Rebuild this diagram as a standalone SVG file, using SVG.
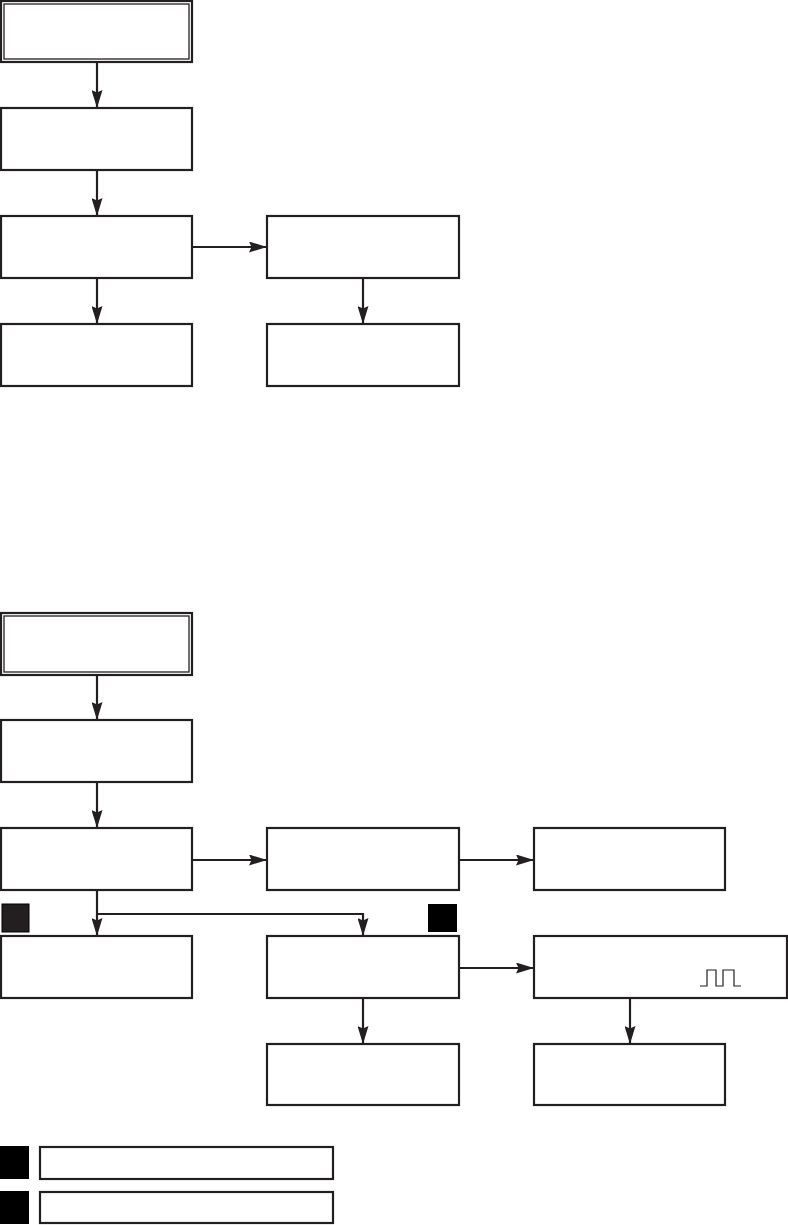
<svg xmlns="http://www.w3.org/2000/svg" width="788" height="1225" viewBox="0 0 788 1225">
<style>
.box{fill:#fff;stroke:#231f20;stroke-width:2.2}
.inner{fill:none;stroke:#231f20;stroke-width:1.3}
.conn{fill:none;stroke:#231f20;stroke-width:2.2}
.wave{fill:none;stroke:#231f20;stroke-width:1.2}
</style>
<defs>
<marker id="arr" markerUnits="userSpaceOnUse" markerWidth="18" markerHeight="11" refX="18" refY="5.5" orient="auto">
<path d="M0,0 L18,5.5 L0,11 L2.5,5.5 z" fill="#231f20"/>
</marker>
</defs>
<rect width="788" height="1225" fill="#fff"/>
<g id="connectors">
<path class="conn" d="M97,62 V108" marker-end="url(#arr)"/>
<path class="conn" d="M97,170 V216" marker-end="url(#arr)"/>
<path class="conn" d="M97,278 V324" marker-end="url(#arr)"/>
<path class="conn" d="M192,247 H267" marker-end="url(#arr)"/>
<path class="conn" d="M363,278 V324" marker-end="url(#arr)"/>
<path class="conn" d="M97,675 V720" marker-end="url(#arr)"/>
<path class="conn" d="M97,782 V828" marker-end="url(#arr)"/>
<path class="conn" d="M192,860 H267" marker-end="url(#arr)"/>
<path class="conn" d="M459,860 H534" marker-end="url(#arr)"/>
<path class="conn" d="M97,890 V936" marker-end="url(#arr)"/>
<path class="conn" d="M97,914 H363 V936" marker-end="url(#arr)"/>
<path class="conn" d="M459,968 H534" marker-end="url(#arr)"/>
<path class="conn" d="M363,998 V1044" marker-end="url(#arr)"/>
<path class="conn" d="M630,998 V1044" marker-end="url(#arr)"/>
</g>
<g id="n1"><rect class="box" x="1" y="1" width="191" height="61"/><rect class="inner" x="4" y="4" width="185" height="55"/></g>
<g id="n2"><rect class="box" x="1" y="108" width="191" height="62"/></g>
<g id="n3"><rect class="box" x="1" y="216" width="191" height="62"/></g>
<g id="n4"><rect class="box" x="1" y="324" width="191" height="62"/></g>
<g id="n5"><rect class="box" x="267" y="216" width="192" height="62"/></g>
<g id="n6"><rect class="box" x="267" y="324" width="192" height="62"/></g>
<g id="m1"><rect class="box" x="1" y="613" width="191" height="62"/><rect class="inner" x="4" y="616" width="185" height="56"/></g>
<g id="m2"><rect class="box" x="1" y="720" width="191" height="62"/></g>
<g id="m3"><rect class="box" x="1" y="828" width="191" height="62"/></g>
<g id="m4"><rect class="box" x="267" y="828" width="192" height="62"/></g>
<g id="m5"><rect class="box" x="534" y="828" width="191" height="62"/></g>
<g id="m6"><rect class="box" x="1" y="936" width="191" height="62"/></g>
<g id="m7"><rect class="box" x="267" y="936" width="192" height="62"/></g>
<g id="m8"><rect class="box" x="534" y="936" width="253" height="62"/>
<path class="wave" d="M700,986 H707 V970 H716 V986 H723 V970 H734 V986 H741"/></g>
<g id="m9"><rect class="box" x="267" y="1044" width="192" height="61"/></g>
<g id="m10"><rect class="box" x="534" y="1044" width="191" height="61"/></g>
<g id="sq1"><rect x="2" y="904" width="27" height="28" fill="#231f20" stroke="#000" stroke-width="1"/></g>
<g id="sq2"><rect x="428" y="904" width="29" height="28" fill="#000"/></g>
<g id="legend1"><rect x="0" y="1146" width="29" height="33" fill="#000"/><rect class="box" x="40" y="1147" width="293" height="32"/></g>
<g id="legend2"><rect x="0" y="1191" width="29" height="33" fill="#000"/><rect class="box" x="40" y="1192" width="293" height="31"/></g>
</svg>
